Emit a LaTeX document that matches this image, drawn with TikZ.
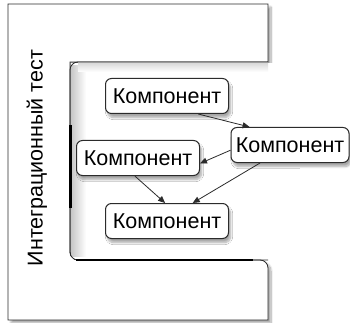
\documentclass[tikz,border=0pt]{standalone}
\usepackage{fontspec}
\setmainfont{Liberation Sans}
\usetikzlibrary{arrows.meta, shadows.blur}
\definecolor{edge}{HTML}{2b2b2b}
\tikzset{
    comp/.style={
        rectangle, draw=edge, line width=1pt,
        rounded corners=6pt,
        fill=white,
        inner sep=0pt,
        minimum width=123pt,
        minimum height=35pt,
        font=\fontsize{21.5}{24}\selectfont,
        blur shadow={shadow xshift=2pt, shadow yshift=-4pt, shadow blur steps=8, shadow opacity=35}
    },
    link/.style={
        line width=0.8pt, draw=edge,
        -{Triangle[length=7pt, width=6pt]},
    },
}

\begin{document}
\begin{tikzpicture}[x=1pt, y=-1pt]
        \useasboundingbox (0,0) rectangle (350,323);
        % test frame with its notch
        \draw[draw=edge, line width=0.8pt, fill=white,
              blur shadow={shadow xshift=3pt, shadow yshift=-3pt, shadow blur steps=10, shadow opacity=35}]
            (8,4) -- (268,4) -- (268,62) -- (70,62) [rounded corners=8pt] -- (70,260) -- (268,260)
            [sharp corners] -- (268,320) -- (8,320) -- cycle;
        \fill[white] (71,63) rectangle (300,259);
        \shade[left color=black!22, right color=white] (71,66) rectangle (86,256);
        \shade[top color=black!15, bottom color=white] (78,63) rectangle (268,72);
        \draw[draw=edge, line width=0.8pt, rounded corners=8pt] (268,62) -- (70,62) -- (70,260) -- (268,260);
        \draw[line width=3pt] (70,125) -- (70,208);
        \draw[line width=1.6pt] (76,260) -- (253,260);
        \node[rotate=90, font=\fontsize{21.5}{24}\selectfont] (title) at (37,158) {Интеграционный тест};

        % components
        \node[comp] (top) at (167,96) {Компонент};
        \node[comp, minimum width=118pt] (right) at (290,145) {Компонент};
        \node[comp] (left) at (138,158) {Компонент};
        \node[comp] (bottom) at (167,221) {Компонент};

        \draw[link] (top.-30) -- (right.156);
        \draw[link] (right.185) -- (left.-5);
        \draw[link] (left.-100) -- (bottom.96);
        \draw[link] (right.-149) -- (bottom.35);
    \end{tikzpicture}
\end{document}
